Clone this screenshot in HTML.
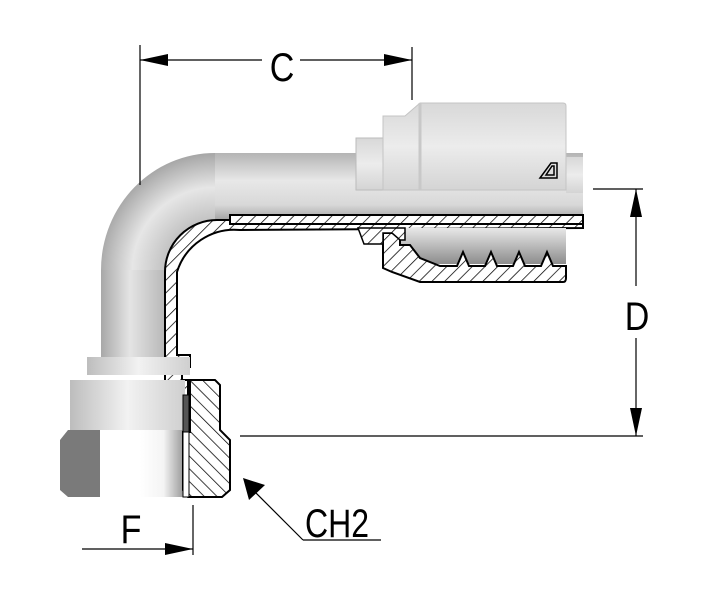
<!DOCTYPE html>
<html><head><style>
html,body{margin:0;padding:0;background:#fff;}
svg{display:block;}
text{font-family:"Liberation Sans",sans-serif;fill:#000;}
</style></head><body>
<svg width="703" height="600" viewBox="0 0 703 600" xmlns="http://www.w3.org/2000/svg">
<defs>
<linearGradient id="gv" x1="0" y1="0" x2="1" y2="0">
<stop offset="0" stop-color="#a8a8a8"/><stop offset="0.45" stop-color="#e4e4e4"/><stop offset="1" stop-color="#b8b8b8"/>
</linearGradient>
<linearGradient id="gh" x1="0" y1="0" x2="0" y2="1">
<stop offset="0" stop-color="#b4b4b4"/><stop offset="0.4" stop-color="#e8e8e8"/><stop offset="0.75" stop-color="#d8d8d8"/><stop offset="1" stop-color="#9c9c9c"/>
</linearGradient>
<linearGradient id="gf" x1="0" y1="0" x2="0" y2="1">
<stop offset="0" stop-color="#d8d8d8"/><stop offset="0.5" stop-color="#ececec"/><stop offset="1" stop-color="#d4d4d4"/>
</linearGradient>
<radialGradient id="gb" cx="215" cy="270" r="118" gradientUnits="userSpaceOnUse">
<stop offset="0.4" stop-color="#c0c0c0"/><stop offset="0.7" stop-color="#e6e6e6"/><stop offset="1" stop-color="#a4a4a4"/>
</radialGradient>
<linearGradient id="gn" x1="0" y1="0" x2="1" y2="0">
<stop offset="0" stop-color="#bdbdbd"/><stop offset="0.5" stop-color="#f2f2f2"/><stop offset="1" stop-color="#cfcfcf"/>
</linearGradient>
<linearGradient id="gl" x1="0" y1="0" x2="1" y2="0">
<stop offset="0" stop-color="#ffffff"/><stop offset="0.5" stop-color="#f4f4f4"/><stop offset="1" stop-color="#8a8a8a"/>
</linearGradient>
<linearGradient id="gi" x1="0" y1="0" x2="0" y2="1">
<stop offset="0" stop-color="#e8e8e8"/><stop offset="1" stop-color="#8c8c8c"/>
</linearGradient>
<pattern id="hat" width="9" height="9" patternUnits="userSpaceOnUse" patternTransform="rotate(45)">
<rect width="9" height="9" fill="#fff"/><line x1="0" y1="0" x2="0" y2="9" stroke="#000" stroke-width="1.5"/>
</pattern>
<pattern id="hat2" width="9" height="9" patternUnits="userSpaceOnUse" patternTransform="rotate(-45)">
<rect width="9" height="9" fill="#fff"/><line x1="0" y1="0" x2="0" y2="9" stroke="#000" stroke-width="1.5"/>
</pattern>
</defs>

<path d="M101,360 L101,270 A114,117 0 0 1 215,153 L360,153 L360,222 L215,222 A50,50 0 0 0 165,272 L165,360 Z" fill="url(#gb)"/>
<rect x="101" y="270" width="64" height="95" fill="url(#gv)"/>
<rect x="215" y="153" width="150" height="69" fill="url(#gh)"/>
<rect x="360" y="153" width="223" height="69" fill="url(#gh)"/>
<rect x="566" y="157" width="17" height="36" fill="url(#gf)"/>
<rect x="356" y="138" width="30" height="52" fill="url(#gf)" stroke="#bbb" stroke-width="1"/>
<path d="M383,190 L383,116 L405,116 L420,103 L563,103 Q566,103 566,106 L566,190 Z" fill="url(#gf)" stroke="#c4c4c4" stroke-width="1"/>
<line x1="420" y1="103" x2="420" y2="190" stroke="#c8c8c8" stroke-width="3"/>
<path d="M540,178 L551,163 L557,163 L557,178 Z M546,175 L552,166 L554,166 L554,175 Z" fill="none" stroke="#000" stroke-width="1.5"/>

<!-- section wall (bend) -->
<path d="M165,365 L165,272 A52,52 0 0 1 217,220 L583,220 L583,228 L240,230 A60,60 0 0 0 177,272 L177,355 L190,355 L190,367 L182,367 L182,380 L188,380 L188,432 L176,432 L165,420 Z" fill="url(#hat)" stroke="#000" stroke-width="2"/>
<rect x="230" y="215" width="353" height="9" fill="url(#hat)" stroke="#000" stroke-width="2"/>
<!-- insert/hose interior -->
<rect x="392" y="228" width="174" height="36" fill="url(#gi)"/>
<!-- ferrule section -->
<path d="M383,233 L383,268 L392,272 L420,282 L563,282 Q566,282 566,278 L566,266 L553,266 L547,252 L541,266 L525,266 L519,252 L513,266 L497,266 L491,252 L485,266 L469,266 L463,252 L457,266 L440,266 L420,258 L410,245 L400,245 L400,236 L392,233 Z" fill="url(#hat)" stroke="#000" stroke-width="2"/>
<path d="M358,228 L364,244 L383,244 L383,233 L392,233 L400,240 L405,240 L405,228 Z" fill="url(#hat)" stroke="#000" stroke-width="1.5"/>

<!-- nut -->
<rect x="87" y="357" width="103" height="18" fill="url(#gn)"/>
<rect x="70" y="380" width="115" height="52" fill="url(#gn)"/>
<path d="M60,440 L68,430 L187,430 L187,497 L68,497 L60,490 Z" fill="url(#gl)"/>
<path d="M60,440 L68,430 L100,430 L100,497 L68,497 L60,490 Z" fill="#7a7a7a"/>
<rect x="100" y="430" width="40" height="67" fill="#fff"/>
<rect x="140" y="430" width="47" height="67" fill="url(#gl)"/>
<path d="M190,380 L215,380 L220,385 L220,430 L230,440 L230,490 L222,497 L188,497 L183,490 L183,432 L190,432 Z" fill="url(#hat2)" stroke="#000" stroke-width="2"/>
<rect x="183" y="395" width="6" height="37" fill="#555" stroke="#000" stroke-width="1"/>
<rect x="183" y="432" width="6" height="65" fill="#fff" stroke="#000" stroke-width="1"/>

<g stroke="#000" stroke-width="1.2">
<line x1="140" y1="45" x2="140" y2="185"/>
<line x1="412" y1="47" x2="412" y2="100"/>
<line x1="140" y1="60" x2="262" y2="60"/>
<line x1="300" y1="60" x2="412" y2="60"/>
<line x1="593" y1="189" x2="643" y2="189"/>
<line x1="240" y1="436" x2="643" y2="436"/>
<line x1="636" y1="189" x2="636" y2="286"/>
<line x1="636" y1="338" x2="636" y2="436"/>
<line x1="193" y1="505" x2="193" y2="555"/>
<line x1="82" y1="549" x2="193" y2="549"/>
<line x1="303" y1="540" x2="381" y2="540"/>
<line x1="303" y1="540" x2="250" y2="487"/>
</g>
<g fill="#000">
<path d="M140,60 L168,54 L168,66 Z"/>
<path d="M412,60 L384,54 L384,66 Z"/>
<path d="M636,189 L630,217 L642,217 Z"/>
<path d="M636,436 L630,408 L642,408 Z"/>
<path d="M193,549 L165,543 L165,555 Z"/>
<path d="M243,478 L249,500 L265,485 Z"/>
</g>
<text x="282" y="81" font-size="40" text-anchor="middle" transform="translate(282,0) scale(0.85,1) translate(-282,0)">C</text>
<text x="637" y="330" font-size="40" text-anchor="middle" transform="translate(637,0) scale(0.85,1) translate(-637,0)">D</text>
<text x="131" y="543" font-size="40" text-anchor="middle" transform="translate(131,0) scale(0.85,1) translate(-131,0)">F</text>
<text x="305" y="537" font-size="40" transform="translate(305,0) scale(0.8,1) translate(-305,0)">CH2</text>
</svg>
</body></html>
